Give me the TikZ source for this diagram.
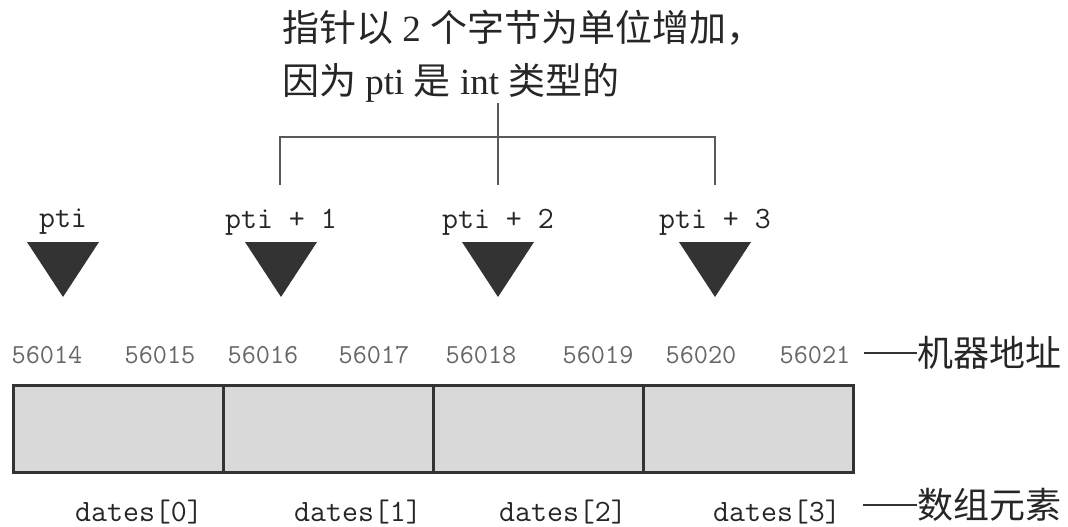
\documentclass[tikz,border=0pt]{standalone}
\usepackage{fontspec}
\setmainfont{Liberation Serif}
\newfontfamily\cjk{Noto Sans CJK SC}
\usetikzlibrary{positioning}

\begin{document}
\begin{tikzpicture}[x=1pt, y=-1pt,
  ptr/.style={font=\ttfamily\fontsize{31}{31}\selectfont, text=black!85},
  addr/.style={font=\ttfamily\fontsize{27.5}{27.5}\selectfont, text=black!60},
  elem/.style={font=\ttfamily\fontsize{31}{31}\selectfont, text=black!85},
  cell/.style={draw=black!80, line width=3pt, fill=black!15, minimum width=210pt, minimum height=87pt, inner sep=0pt, outer sep=0pt},
  tag/.style={font=\cjk\fontsize{36}{36}\selectfont, text=black!85, anchor=west, inner sep=0pt},
  arrowhead/.style={fill=black!80},
  link/.style={draw=black!65, line width=1.5pt},
  dashline/.style={draw=black!80, line width=2.5pt}]
\useasboundingbox (0,0) rectangle (1068,527);

% note at the top
\node[anchor=north west, inner sep=0pt, align=left, text=black!85,
  font=\fontsize{37}{53}\selectfont] (note) at (282,10)
  {{\cjk 指针以} 2 {\cjk 个字节为单位增加，}\\{\cjk 因为} pti {\cjk 是} int {\cjk 类型的}};

% bracket
\coordinate (hub) at (498,137);
\coordinate (b1) at (280,185);
\coordinate (b2) at (498,185);
\coordinate (b3) at (715,185);
\draw[link] (note.south -| hub) -- (b2);
\draw[link] (b1) |- (hub) -| (b3);

% pointers
\foreach \x/\t [count=\i from 0] in {63/pti, 281/pti + 1, 498/pti + 2, 715/pti + 3} {
  \node[ptr] (p\i) at (\x,222) {\t};
  \fill[arrowhead] (\x-36,242) -- (\x+36,242) -- (\x,297) -- cycle;
}

% addresses
\foreach \x/\a [count=\i] in {47/56014, 160/56015, 263/56016, 374/56017, 481/56018, 598/56019, 701/56020, 815/56021}
  \node[addr] (a\i) at (\x,355) {\a};
\node[tag] (mach) at (917,353) {机器地址};
\coordinate (machdash) at (864,353);
\draw[dashline] (machdash) -- (mach.west);

% cells
\node[cell] (d0) at (118,428.5) {};
\node[cell, right=0pt of d0] (d1) {};
\node[cell, right=0pt of d1] (d2) {};
\node[cell, right=0pt of d2] (d3) {};

% elements
\foreach \x [count=\i from 0] in {139,358,563,777}
  \node[elem] (e\i) at (\x,512) {dates[\i]};
\node[tag] (parts) at (917,505) {数组元素};
\coordinate (partsdash) at (863,505);
\draw[dashline] (partsdash) -- (parts.west);
\end{tikzpicture}
\end{document}
